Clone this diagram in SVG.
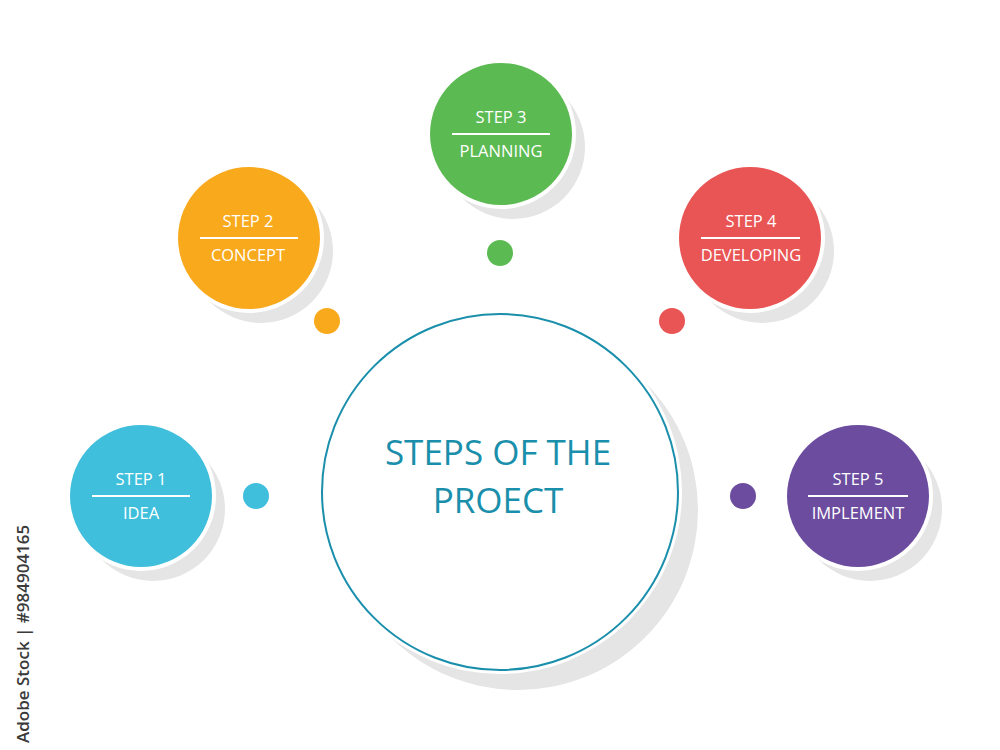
<svg xmlns="http://www.w3.org/2000/svg" width="1000" height="750" viewBox="0 0 1000 750">
  <style>
    .shadow { fill: #e5e5e5; }
    .ring { fill: #ffffff; }
    .step { font-family: "Open Sans", "Noto Sans", "Liberation Sans", sans-serif; font-size: 16.5px; fill: #ffffff; text-anchor: middle; }
    .rule { stroke: #ffffff; stroke-width: 2; }
    .title { font-family: "Open Sans", "Noto Sans", "Liberation Sans", sans-serif; font-size: 35px; fill: #1a8fab; text-anchor: middle; }
    .credit { font-family: "Open Sans", "Noto Sans", "Liberation Sans", sans-serif; font-size: 17px; font-weight: 600; fill: #3a3a3a; }
  </style>
  <rect width="1000" height="750" fill="#ffffff"/>

  <g id="center">
    <circle class="shadow" cx="518" cy="510" r="180"/>
    <circle class="ring" cx="500" cy="492" r="182"/>
    <circle cx="500" cy="492" r="178" fill="#ffffff" stroke="#1a8fab" stroke-width="2"/>
    <text class="title" x="498" y="465">STEPS OF THE</text>
    <text class="title" x="498" y="513">PROECT</text>
  </g>

  <g id="connectors">
    <circle cx="256" cy="496" r="13" fill="#3fbfdb"/>
    <circle cx="327" cy="321" r="13" fill="#f9a91c"/>
    <circle cx="500" cy="253" r="13" fill="#5cba52"/>
    <circle cx="672" cy="321" r="13" fill="#e95454"/>
    <circle cx="743" cy="496" r="13" fill="#6b4c9e"/>
  </g>

  <g id="step1">
    <circle class="shadow" cx="153" cy="509" r="72"/>
    <circle class="ring" cx="141" cy="496" r="75"/>
    <circle cx="141" cy="496" r="71" fill="#3fbfdb"/>
    <text class="step" x="141" y="485">STEP 1</text>
    <line class="rule" x1="92" y1="496" x2="190" y2="496"/>
    <text class="step" x="141" y="519">IDEA</text>
  </g>

  <g id="step2">
    <circle class="shadow" cx="261" cy="251" r="72"/>
    <circle class="ring" cx="249" cy="238" r="75"/>
    <circle cx="249" cy="238" r="71" fill="#f9a91c"/>
    <text class="step" x="248" y="227">STEP 2</text>
    <line class="rule" x1="200" y1="238" x2="298" y2="238"/>
    <text class="step" x="248" y="261">CONCEPT</text>
  </g>

  <g id="step3">
    <circle class="shadow" cx="513" cy="147" r="72"/>
    <circle class="ring" cx="501" cy="134" r="75"/>
    <circle cx="501" cy="134" r="71" fill="#5cba52"/>
    <text class="step" x="501" y="123">STEP 3</text>
    <line class="rule" x1="452" y1="134" x2="550" y2="134"/>
    <text class="step" x="501" y="157">PLANNING</text>
  </g>

  <g id="step4">
    <circle class="shadow" cx="762" cy="251" r="72"/>
    <circle class="ring" cx="750" cy="238" r="75"/>
    <circle cx="750" cy="238" r="71" fill="#e95454"/>
    <text class="step" x="751" y="227">STEP 4</text>
    <line class="rule" x1="701" y1="238" x2="800" y2="238"/>
    <text class="step" x="751" y="261">DEVELOPING</text>
  </g>

  <g id="step5">
    <circle class="shadow" cx="870" cy="509" r="72"/>
    <circle class="ring" cx="858" cy="496" r="75"/>
    <circle cx="858" cy="496" r="71" fill="#6b4c9e"/>
    <text class="step" x="858" y="485">STEP 5</text>
    <line class="rule" x1="808" y1="496" x2="908" y2="496"/>
    <text class="step" x="858" y="519">IMPLEMENT</text>
  </g>

  <text class="credit" transform="translate(29,743) rotate(-90)">Adobe Stock | #984904165</text>
</svg>
